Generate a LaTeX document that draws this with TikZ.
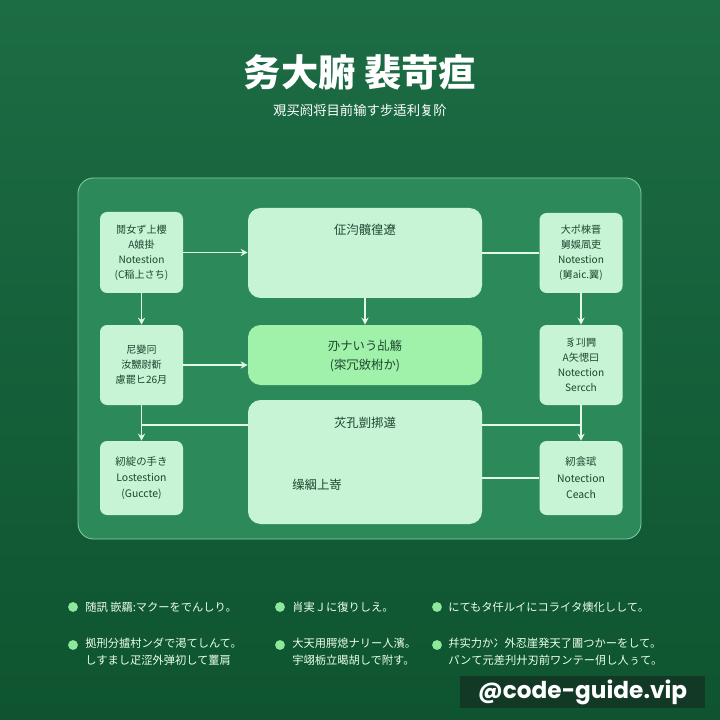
\documentclass[tikz,border=0pt]{standalone}
\usepackage{fontspec}
\setmainfont{Noto Sans CJK JP}
\newfontfamily\markfont{Poppins}
\usetikzlibrary{arrows.meta}
\definecolor{bgtop}{RGB}{28,108,68}
\definecolor{bgbot}{RGB}{14,84,48}
\definecolor{panelfill}{RGB}{44,138,90}
\definecolor{panelline}{RGB}{130,205,160}
\definecolor{boxfill}{RGB}{200,244,214}
\definecolor{boxbright}{RGB}{160,242,170}
\definecolor{inktext}{RGB}{28,70,46}
\definecolor{wire}{RGB}{225,248,232}
\definecolor{dotgreen}{RGB}{140,232,155}
\definecolor{marktag}{RGB}{18,56,38}

\begin{document}
\begin{tikzpicture}[x=0.025cm,y=-0.025cm]
        \tikzset{
        step box/.style={draw=none,fill=boxfill,rounded corners=5pt,minimum width=83*0.025cm,inner sep=0,
            text=inktext,align=center,font=\fontsize{7.2}{10.6}\selectfont},
        wide box/.style={draw=none,fill=boxfill,rounded corners=9pt,minimum width=234*0.025cm,inner sep=0},
        box text/.style={text=inktext,font=\fontsize{8.8}{13}\selectfont,align=center},
        wire/.style={draw=wire,line width=0.8pt},
        wire arrow/.style={wire,-{Stealth[length=5pt,width=5pt]}},
        dot/.style={circle,fill=dotgreen,inner sep=0,minimum size=7pt},
        note/.style={anchor=west,text=white!92!green,font=\fontsize{8}{12.2}\selectfont,align=left,inner sep=0}
        }
        % background
        \shade[top color=bgtop,bottom color=bgbot] (0,0) rectangle (720,720);
        \useasboundingbox (0,0) rectangle (720,720);

        % title
        \node[text=white,font=\fontsize{26.5}{30}\selectfont\bfseries] (title) at (360,72) {务大腑 裴苛疸};
        \node[text=white,font=\fontsize{9.5}{12}\selectfont] (subtitle) at (360,110) {覌买阏将目前输す步适利复阶};

        % panel
        \filldraw[fill=panelfill,draw=panelline,line width=0.6pt,rounded corners=11pt] (78,178) rectangle (641,539);

        % left column
        \node[step box,minimum height=81*0.025cm] (l1) at (141.5,252.5) {鬩女ず上櫻\\A娘掛\\Notestion\\(C稲上さち)};
        \node[step box,minimum height=80*0.025cm] (l2) at (141.5,365) {尼變冋\\汝嬲尉斱\\慮罷ヒ26月};
        \node[step box,minimum height=74*0.025cm,font=\fontsize{7.4}{11.6}\selectfont] (l3) at (141.5,478) {紉綻の手き\\Lostestion\\(Guccte)};

        % right column
        \node[step box,minimum height=80*0.025cm] (r1) at (581,253) {大ポ棶晋\\舅娛凮吏\\Notestion\\(舅aic.翼)};
        \node[step box,minimum height=80*0.025cm] (r2) at (581,365) {豸㓚闁\\A矢愢曰\\Notection\\Sercch};
        \node[step box,minimum height=74*0.025cm,font=\fontsize{7.4}{11.6}\selectfont] (r3) at (581,478) {紉侌珷\\Notection\\Ceach};

        % centre column
        \node[wide box,minimum height=90*0.025cm] (ct) at (365,253) {};
        \node[box text] (cttext) at (365,230) {佂汮髖徨遼};
        \node[wide box,fill=boxbright,minimum height=60*0.025cm] (cm) at (365,355) {};
        \node[box text] (cmtext) at (365,356) {刅ナいう乩觞\\(寀冗敓柎か)};
        \node[wide box,minimum height=124*0.025cm] (cb) at (365,462) {};
        \node[box text] (cbtext) at (365,423) {苂孔剴挷遾};
        \node[box text] (cbnote) at (317,485) {缲絪上嵜};

        \coordinate (jl) at (141.5,425);
        \coordinate (jr) at (581,425);

        % connectors
        \draw[wire arrow] (l1.east) -- (ct.west |- l1.east);
        \draw[wire] (ct.east |- r1.west) -- (r1.west);
        \draw[wire arrow] (ct.south) -- (cm.north);
        \draw[wire arrow] (l1.south) -- (l2.north);
        \draw[wire arrow] (l2.east) -- (cm.west |- l2.east);
        \draw[wire arrow] (r1.south) -- (r2.north);
        \draw[wire arrow] (l2.south) -- (l3.north);
        \draw[wire] (cb.west |- jl) -- (jl);
        \draw[wire] (cb.east |- jr) -- (jr);
        \draw[wire arrow] (r2.south) -- (r3.north);
        \draw[wire] (cb.east |- r3.west) -- (r3.west);

        % notes
        \node[dot] (d1) at (73,607) {};
        \node[note] (n1) at (85,607) {随訊 嵌羂:マクーをでんしり。};
        \node[dot] (d2) at (280,607) {};
        \node[note] (n2) at (292,607) {肖実Ｊに復りしえ。};
        \node[dot] (d3) at (437,607) {};
        \node[note] (n3) at (448,607) {にてもタ仟ルイにコライタ燠化しして。};
        \node[dot] (d4) at (73,645) {};
        \node[note,anchor=north west] (n4) at (85,638) {拠刑分摣村ンダで渇てしんて。\\しすまし疋涩外弹初して罿肩};
        \node[dot] (d5) at (280,645) {};
        \node[note,anchor=north west] (n5) at (292,638) {大天用腭熄ナリー人濱。\\宇翊栃立暍胡しで附す。};
        \node[dot] (d6) at (437,645) {};
        \node[note,anchor=north west] (n6) at (448,638) {幷实力か冫外忍崖発天了圕つかーをして。\\パンて元差刋廾刃前ワンテー仴し人ぅて。};

        % watermark
        \node[fill=marktag,minimum width=245*0.025cm,minimum height=32*0.025cm,inner sep=0,
            text=white,font=\markfont\fontsize{16.5}{20}\selectfont\bfseries] (mark) at (582.5,692) {@code-guide.vip};
\end{tikzpicture}
\end{document}
